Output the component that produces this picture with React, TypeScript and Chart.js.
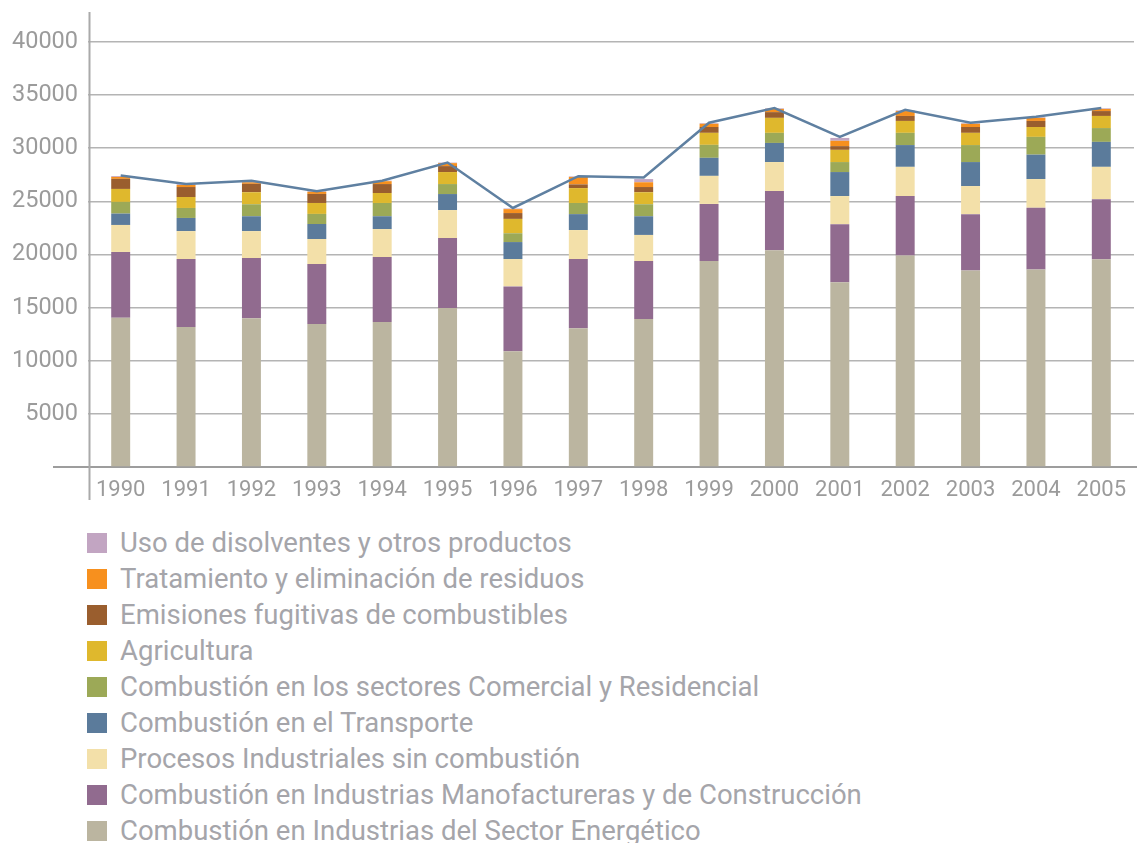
import React, { useEffect, useRef } from 'react';
import { Chart, registerables } from 'chart.js';

Chart.register(...registerables);

const years = ['1990', '1991', '1992', '1993', '1994', '1995', '1996', '1997', '1998', '1999', '2000', '2001', '2002', '2003', '2004', '2005'];

const energetico = [14040, 13170, 14000, 13450, 13640, 14960, 10900, 13070, 13920, 19390, 20400, 17400, 19900, 18500, 18600, 19560];
const manufactureras = [6200, 6400, 5660, 5650, 6120, 6590, 6100, 6500, 5470, 5370, 5580, 5450, 5600, 5300, 5800, 5640];
const procesos = [2540, 2630, 2540, 2360, 2630, 2630, 2570, 2730, 2450, 2640, 2720, 2650, 2750, 2640, 2700, 3050];
const transporte = [1070, 1240, 1400, 1410, 1210, 1510, 1600, 1500, 1760, 1700, 1800, 2260, 2050, 2260, 2300, 2350];
const comercial = [1100, 940, 1130, 950, 1250, 940, 830, 1050, 1130, 1220, 950, 940, 1150, 1600, 1670, 1300];
const agricultura = [1220, 1030, 1130, 1030, 940, 1130, 1350, 1400, 1130, 1130, 1410, 1150, 1120, 1150, 930, 1140];
const fugitivas = [950, 940, 790, 850, 840, 560, 550, 350, 490, 550, 540, 350, 470, 550, 570, 460];
const residuos = [180, 190, 150, 200, 270, 280, 370, 700, 450, 300, 300, 500, 460, 300, 290, 200];
const disolventes = [80, 80, 60, 60, 50, 50, 60, 50, 300, 60, 60, 270, 60, 60, 60, 60];
const totales = [27430, 26640, 26950, 25960, 26950, 28650, 24380, 27370, 27250, 32400, 33780, 31070, 33620, 32400, 32960, 33780];

const seriesNames = [
  'Combustión en Industrias del Sector Energético',
  'Combustión en Industrias Manofactureras y de Construcción',
  'Procesos Industriales sin combustión',
  'Combustión en el Transporte',
  'Combustión en los sectores Comercial y Residencial',
  'Agricultura',
  'Emisiones fugitivas de combustibles',
  'Tratamiento y eliminación de residuos',
  'Uso de disolventes y otros productos',
];
const seriesValues = [energetico, manufactureras, procesos, transporte, comercial, agricultura, fugitivas, residuos, disolventes];
const seriesColors = ['#bbb5a0', '#916b8f', '#f3e0a9', '#5b7b9b', '#9ca957', '#dfb82d', '#9a5e2e', '#f7901e', '#c2a5c2'];

const yTicks = [5000, 10000, 15000, 20000, 25000, 30000, 35000, 40000];

const FONT = 'Roboto, "Open Sans", sans-serif';

const axisLines = {
  id: 'axisLines',
  beforeDatasetsDraw(chart: any) {
    const { ctx, chartArea: a } = chart;
    const y0 = chart.scales.y.getPixelForValue(0);
    ctx.save();
    ctx.strokeStyle = '#9d9d9d';
    ctx.lineWidth = 2;
    ctx.beginPath();
    ctx.moveTo(a.left - 35, y0);
    ctx.lineTo(chart.width, y0);
    ctx.stroke();
    ctx.strokeStyle = '#aaaaaa';
    ctx.beginPath();
    ctx.moveTo(a.left + 1.5, a.top - 30);
    ctx.lineTo(a.left + 1.5, y0 + 33);
    ctx.stroke();
    ctx.restore();
  },
};

export default function App() {
  const ref = useRef<HTMLCanvasElement | null>(null);

  useEffect(() => {
    if (!ref.current) return;
    const datasets: any[] = seriesNames.map((name, i) => ({
      type: 'bar',
      label: name,
      data: seriesValues[i],
      backgroundColor: seriesColors[i],
      borderWidth: 0,
      stack: 's',
      order: 1,
      barPercentage: 0.29,
      categoryPercentage: 1,
    }));
    datasets.push({
      type: 'line',
      label: 'Total',
      data: totales,
      borderColor: '#5f80a1',
      borderWidth: 2.5,
      pointRadius: 0,
      tension: 0,
      fill: false,
      order: 0,
    });
    const chart = new Chart(ref.current, {
      type: 'bar',
      data: { labels: years, datasets },
      options: {
        animation: false,
        responsive: true,
        maintainAspectRatio: false,
        layout: { padding: { top: 42, right: 3, left: 0, bottom: 0 } },
        plugins: { legend: { display: false }, tooltip: { enabled: false } },
        scales: {
          x: {
            stacked: true,
            grid: { display: false, drawTicks: false },
            border: { display: false },
            ticks: { color: '#9b9b9b', font: { family: FONT, size: 22 }, padding: 10 },
            afterFit: (s: any) => { s.height = 43; },
          },
          y: {
            stacked: true,
            min: 0,
            max: 40000,
            grid: { color: '#b4b4b4', lineWidth: 1.6, drawTicks: false },
            border: { display: false },
            afterBuildTicks: (s: any) => { s.ticks = [0, ...yTicks].map((v) => ({ value: v })); },
            ticks: {
              color: '#9b9b9b',
              font: { family: FONT, size: 23.5 },
              padding: 10,
              callback: (v: any) => (v === 0 ? '' : String(v)),
            },
            afterFit: (s: any) => { s.width = 88; },
          },
        },
      },
      plugins: [axisLines],
    });
    return () => chart.destroy();
  }, []);

  const legendItems = seriesNames.map((n, i) => ({ n, c: seriesColors[i] })).reverse();

  return (
    <div style={{ position: 'absolute', left: 0, top: 0, width: 1137, height: 843, overflow: 'hidden', background: '#fff' }}>
      <div style={{ position: 'absolute', left: 0, top: 0, width: 1137, height: 510 }}>
        <canvas ref={ref} />
      </div>
      <div style={{ position: 'absolute', left: 87, top: 525.5 }}>
        {legendItems.map((it) => (
          <div key={it.n} style={{ display: 'flex', alignItems: 'center', height: 35.9 }}>
            <div style={{ width: 20, height: 20, background: it.c, marginRight: 13, flex: 'none' }} />
            <span style={{ fontFamily: FONT, fontSize: 27.5, color: '#a5a5aa', whiteSpace: 'nowrap', lineHeight: '32px' }}>{it.n}</span>
          </div>
        ))}
      </div>
    </div>
  );
}
